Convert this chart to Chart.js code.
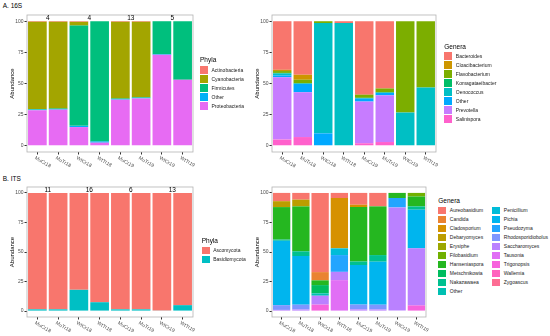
<!DOCTYPE html>
<html lang="en">
<head>
<meta charset="UTF-8">
<title>Abundance</title>
<script src="https://cdn.jsdelivr.net/npm/chart.js@4.4.1/dist/chart.umd.min.js"></script>
<style>
  body { margin: 0; width: 550px; height: 336px; position: relative; overflow: hidden; background: #fff;
         font-family: "Liberation Sans", Arial, sans-serif; }
  canvas { position: absolute; }
  .tag { position: absolute; left: 2.7px; font-size: 6.5px; line-height: 8px; color: #000; }
  .legend { position: absolute; font-size: 5px; color: #1a1a1a; }
  .legend .ttl { font-size: 6.5px; line-height: 8px; height: 9px; color: #000; }
  .legend .items { display: grid; grid-auto-flow: column; }
  .legend .item { display: flex; align-items: center; height: 9px; white-space: nowrap; }
  .legend .key { width: 8px; height: 7.5px; margin-right: 3.5px; flex: none; }
</style>
</head>
<body>
  <div class="tag" style="top:2px">A. 16S</div>
  <div class="tag" style="top:175.3px">B. ITS</div>
  <canvas id="c1" width="205" height="170" style="left:0;top:0"></canvas>
  <canvas id="c2" width="203" height="170" style="left:245px;top:0"></canvas>
  <canvas id="c3" width="205" height="164" style="left:0;top:172px"></canvas>
  <canvas id="c4" width="193" height="164" style="left:245px;top:172px"></canvas>

<script>
  // ---- data ----
  const samples = ['MuCr18', 'MuTr18', 'WtCr18', 'WtTr18', 'MuCr19', 'MuTr19', 'WtCr19', 'WtTr19'];
  const yTicks = [0, 25, 50, 75, 100];

  // 16S phyla (%)
  const phyla16S = ['Actinobacteria', 'Cyanobacteria', 'Firmicutes', 'Other', 'Proteobacteria'];
  const actinobacteria = [0.5, 0.5, 0.5, 0, 0.5, 0.5, 0, 0];
  const cyanobacteria = [70, 69.5, 3, 0, 61.5, 60.5, 0, 0];
  const firmicutes = [0.5, 0.5, 80.5, 96.5, 0.5, 0.5, 26.5, 47];
  const otherPhyla16S = [0.5, 0.5, 1, 1, 0.5, 0.5, 0.5, 0];
  const proteobacteria = [28.5, 29, 15, 2.5, 37, 38, 73, 53];
  const counts16S = [4, 4, 13, 5];

  // 16S genera (%)
  const genera16S = ['Bacteroides', 'Cloacibacterium', 'Flavobacterium', 'Komagataeibacter',
                     'Oenococcus', 'Other', 'Prevotella', 'Salinispora'];
  const bacteroides = [39, 43, 0, 1.5, 59, 54, 0, 0];
  const cloacibacterium = [1, 4, 0, 0, 0, 0, 0, 0];
  const flavobacterium = [1.5, 2.7, 1.5, 0, 2.5, 3, 73.3, 53.3];
  const komagataeibacter = [0.5, 0.5, 0, 0, 0.5, 0.5, 0, 0];
  const oenococcus = [1.5, 0, 88.5, 98.5, 0, 0, 26.7, 46.7];
  const otherGenera16S = [1.5, 6.8, 10, 0, 2.5, 2, 0, 0];
  const prevotella = [50, 36, 0, 0, 33.5, 37.5, 0, 0];
  const salinispora = [5, 7, 0, 0, 2, 3, 0, 0];

  // ITS phyla (%)
  const phylaITS = ['Ascomycota', 'Basidiomycota'];
  const ascomycota = [98.5, 98.5, 82, 92.5, 98.5, 98.5, 99.5, 95];
  const basidiomycota = [1.5, 1.5, 18, 7.5, 1.5, 1.5, 0.5, 5];
  const countsITS = [11, 16, 6, 13];

  // ITS genera (%)
  const generaITS = ['Aureobasidium', 'Candida', 'Cladosporium', 'Debaryomyces', 'Erysiphe',
                     'Filobasidium', 'Hanseniaspora', 'Metschnikowia', 'Nakazawaea', 'Other',
                     'Penicillium', 'Pichia', 'Pseudozyma', 'Rhodosporidiobolus', 'Saccharomyces',
                     'Tausonia', 'Trigonopsis', 'Wallemia', 'Zygoascus'];
  const aureobasidium = [7, 5.7, 67, 4.3, 10, 11.4, 0, 0];
  const candida = [0, 0, 7, 0, 0, 0, 0, 0];
  const cladosporium = [0, 0, 0, 42.6, 2, 0, 0, 0];
  const debaryomyces = [5, 5.7, 0, 0, 0, 0, 0, 0];
  const erysiphe = [0, 0, 0, 0, 0, 0, 0, 0];
  const filobasidium = [0, 0, 0, 0, 0, 0, 0, 3];
  const hanseniaspora = [27.5, 38, 4, 0, 46, 41.2, 4.3, 8.4];
  const metschnikowia = [0, 0, 7, 0, 0, 0, 0, 0];
  const nakazawaea = [1, 4, 0, 0, 3, 5.6, 0, 2.8];
  const otherGeneraITS = [0, 0, 2, 0, 0, 0, 0, 0];
  const penicillium = [0, 0, 0, 5.7, 0, 0, 0, 0];
  const pichia = [54.5, 41.2, 0, 0, 33.5, 36.4, 0, 32.7];
  const pseudozyma = [0, 0, 0, 14.2, 0, 0, 8, 0];
  const rhodosporidiobolus = [4, 4, 0, 0, 4, 4, 0, 0];
  const saccharomyces = [1, 1.4, 7.5, 7, 1.5, 1.4, 87.7, 48.3];
  const tausonia = [0, 0, 0, 26.2, 0, 0, 0, 0];
  const trigonopsis = [0, 0, 5.5, 0, 0, 0, 0, 4.8];
  const wallemia = [0, 0, 0, 0, 0, 0, 0, 0];
  const zygoascus = [0, 0, 0, 0, 0, 0, 0, 0];

  // ggplot default hue palettes
  const hue2 = ['#F8766D', '#00BFC4'];
  const hue5 = ['#F8766D', '#A3A500', '#00BF7D', '#00B0F6', '#E76BF3'];
  const hue8 = ['#F8766D', '#CD9600', '#7CAE00', '#00BE67', '#00BFC4', '#00A9FF', '#C77CFF', '#FF61CC'];
  const hue19 = ['#F8766D', '#EA8331', '#D69100', '#BC9D00', '#9CA700', '#71B000', '#25B720', '#00BD5F',
                 '#00C08F', '#00C0B2', '#00BCD8', '#00B5EE', '#23A5FF', '#7F96FF', '#BA81FF', '#E16FF5',
                 '#F763DD', '#FF62BE', '#FD6D94'];

  Chart.defaults.font.family = '"Liberation Sans", Arial, sans-serif';

  function stacked(id, names, series, colors, counts) {
    // ggplot puts the first level on top, so stack in reverse
    const datasets = names.map((n, i) => ({
      label: n, data: series[i], backgroundColor: colors[i], borderWidth: 0,
      barPercentage: 0.9, categoryPercentage: 1
    })).reverse();

    const extras = {
      id: 'extras',
      afterDraw(chart) {
        const { ctx, chartArea: a, scales: { x, y } } = chart;
        ctx.save();
        ctx.strokeStyle = '#B3B3B3';
        ctx.lineWidth = 0.8;
        ctx.strokeRect(a.left, a.top, a.width, a.height);

        // slanted sample labels
        ctx.font = '5px "Liberation Sans"';
        ctx.fillStyle = '#4D4D4D';
        ctx.textAlign = 'left';
        ctx.textBaseline = 'top';
        samples.forEach((s, i) => {
          ctx.save();
          ctx.translate(x.getPixelForValue(i) - 1, a.bottom + 3.5);
          ctx.rotate(Math.PI / 6);
          ctx.fillText(s, 0, 0);
          ctx.restore();
        });

        // counts over each pair of bars
        ctx.font = '6.5px "Liberation Sans"';
        ctx.fillStyle = '#000';
        ctx.textAlign = 'center';
        ctx.textBaseline = 'bottom';
        counts.forEach((c, k) => {
          const cx = (x.getPixelForValue(2 * k) + x.getPixelForValue(2 * k + 1)) / 2;
          ctx.fillText(String(c), cx, y.getPixelForValue(100) + 0.5);
        });
        ctx.restore();
      }
    };

    return new Chart(document.getElementById(id), {
      type: 'bar',
      data: { labels: samples, datasets },
      options: {
        responsive: false,
        animation: false,
        layout: { padding: { top: 15, right: 12, left: 0, bottom: 0 } },
        plugins: { legend: { display: false }, tooltip: { enabled: false } },
        scales: {
          x: {
            stacked: true,
            ticks: { display: false },
            grid: { offset: false, drawOnChartArea: false, tickLength: 2.5, color: '#333' },
            border: { display: false },
            afterFit: s => { s.height = id === 'c1' || id === 'c2' ? 18 : 19; }
          },
          y: {
            stacked: true, min: -5, max: 105,
            afterBuildTicks: s => { s.ticks = yTicks.map(v => ({ value: v })); },
            ticks: { font: { size: 5 }, color: '#4D4D4D', padding: 1 },
            grid: { drawOnChartArea: false, tickLength: 2.5, color: '#333' },
            border: { display: false },
            title: { display: true, text: 'Abundance', font: { size: 6 }, color: '#000', padding: { top: 8.4 } },
            afterFit: s => { s.width = 27; }
          }
        }
      },
      plugins: [extras]
    });
  }

  function legend(left, top, title, names, colors, rows) {
    const box = document.createElement('div');
    box.className = 'legend';
    box.style.left = left + 'px';
    box.style.top = top + 'px';
    const t = document.createElement('div');
    t.className = 'ttl';
    t.textContent = title;
    box.appendChild(t);
    const items = document.createElement('div');
    items.className = 'items';
    items.style.gridTemplateRows = 'repeat(' + rows + ', 9px)';
    items.style.gridTemplateColumns = 'repeat(auto-fill, 54px)';
    names.forEach((n, i) => {
      const it = document.createElement('div');
      it.className = 'item';
      const k = document.createElement('span');
      k.className = 'key';
      k.style.background = colors[i];
      const s = document.createElement('span');
      s.textContent = n;
      it.appendChild(k);
      it.appendChild(s);
      items.appendChild(it);
    });
    box.appendChild(items);
    document.body.appendChild(box);
  }

  stacked('c1', phyla16S,
    [actinobacteria, cyanobacteria, firmicutes, otherPhyla16S, proteobacteria], hue5, counts16S);
  stacked('c2', genera16S,
    [bacteroides, cloacibacterium, flavobacterium, komagataeibacter, oenococcus, otherGenera16S, prevotella, salinispora],
    hue8, []);
  stacked('c3', phylaITS, [ascomycota, basidiomycota], hue2, countsITS);
  stacked('c4', generaITS,
    [aureobasidium, candida, cladosporium, debaryomyces, erysiphe, filobasidium, hanseniaspora, metschnikowia,
     nakazawaea, otherGeneraITS, penicillium, pichia, pseudozyma, rhodosporidiobolus, saccharomyces, tausonia,
     trigonopsis, wallemia, zygoascus],
    hue19, []);

  legend(200, 56.25, 'Phyla', phyla16S, hue5, 5);
  legend(444.3, 42.55, 'Genera', genera16S, hue8, 8);
  legend(201.7, 236.95, 'Phyla', phylaITS, hue2, 2);
  legend(438.3, 196.95, 'Genera', generaITS, hue19, 10);
</script>
</body>
</html>
